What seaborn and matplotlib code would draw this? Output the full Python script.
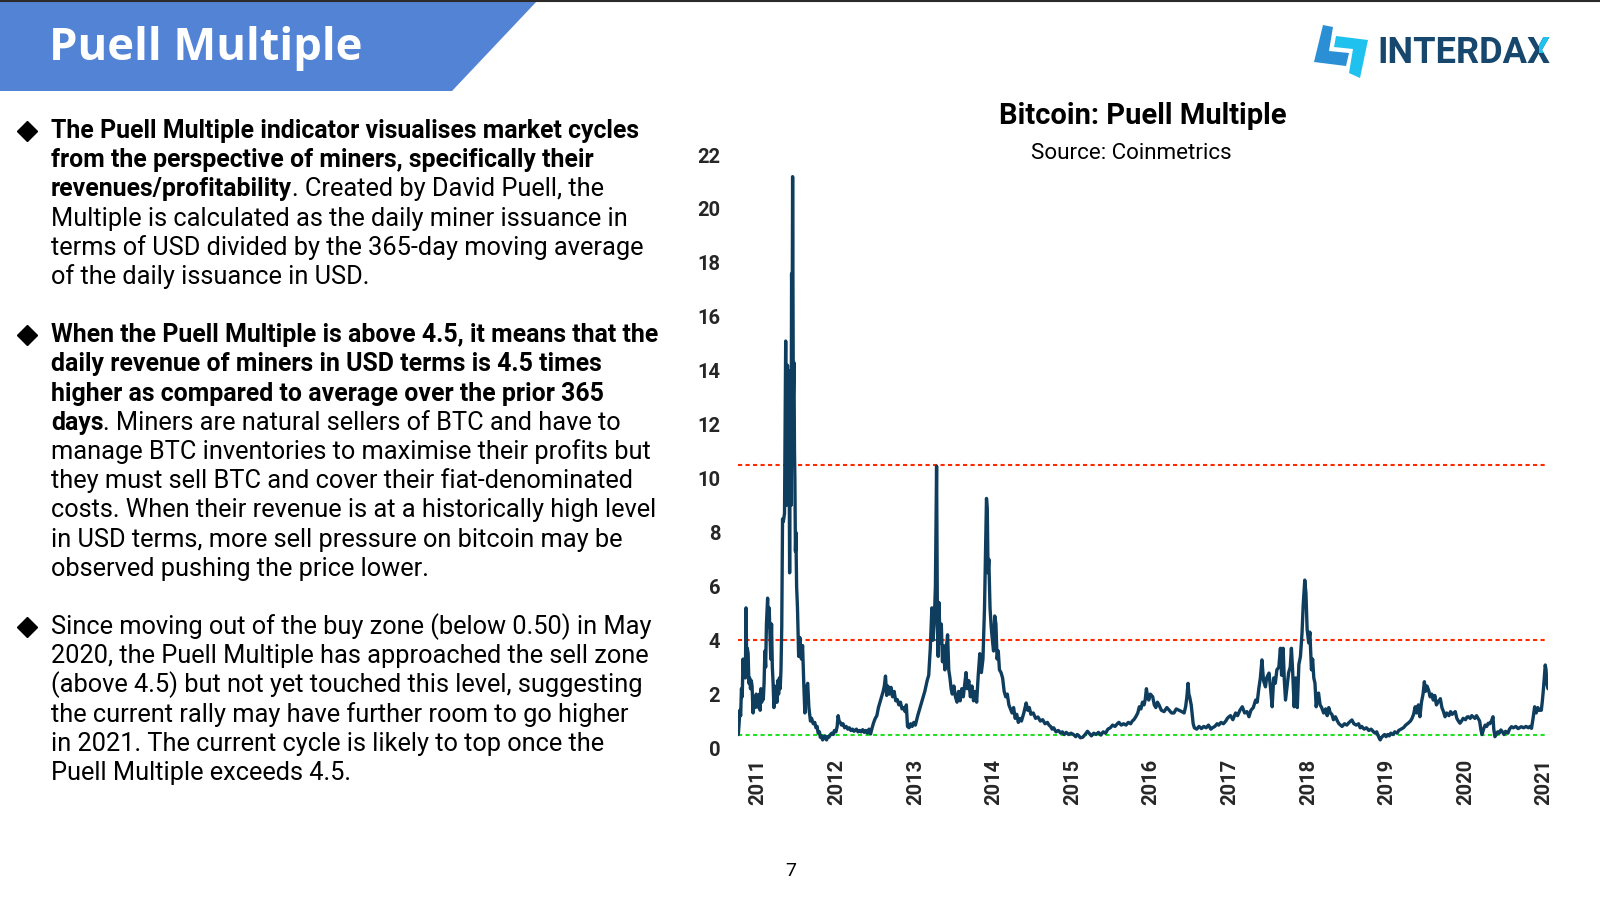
import matplotlib
matplotlib.use("Agg")
import matplotlib.pyplot as plt
from matplotlib.patches import Polygon
from matplotlib.lines import Line2D
from matplotlib.transforms import Bbox
import seaborn as sns
import pandas as pd

# ---------------- data ----------------
years = [
    2010.747, 2010.757, 2010.767, 2010.777, 2010.787, 2010.797, 2010.807, 2010.817, 2010.827, 2010.837,
    2010.845, 2010.853, 2010.862, 2010.872, 2010.882, 2010.892, 2010.902, 2010.912, 2010.922, 2010.935,
    2010.945, 2010.955, 2010.965, 2010.975, 2010.985, 2010.995, 2011.005, 2011.015, 2011.025, 2011.035,
    2011.045, 2011.055, 2011.065, 2011.075, 2011.085, 2011.095, 2011.105, 2011.120, 2011.130, 2011.140,
    2011.150, 2011.160, 2011.170, 2011.180, 2011.190, 2011.200, 2011.210, 2011.220, 2011.230, 2011.240,
    2011.250, 2011.260, 2011.270, 2011.280, 2011.290, 2011.300, 2011.310, 2011.320, 2011.335, 2011.350,
    2011.358, 2011.365, 2011.373, 2011.380, 2011.390, 2011.400, 2011.410, 2011.418, 2011.425, 2011.432,
    2011.438, 2011.443, 2011.447, 2011.455, 2011.462, 2011.467, 2011.474, 2011.480, 2011.489, 2011.500,
    2011.515, 2011.530, 2011.550, 2011.565, 2011.580, 2011.594, 2011.610, 2011.630, 2011.645, 2011.665,
    2011.680, 2011.700, 2011.720, 2011.735, 2011.750, 2011.763, 2011.780, 2011.790, 2011.805, 2011.820,
    2011.835, 2011.850, 2011.860, 2011.870, 2011.885, 2011.900, 2011.920, 2011.935, 2011.955, 2011.970,
    2011.990, 2012.005, 2012.017, 2012.030, 2012.045, 2012.060, 2012.080, 2012.100, 2012.120, 2012.140,
    2012.160, 2012.180, 2012.200, 2012.220, 2012.250, 2012.270, 2012.290,
    2012.31, 2012.33, 2012.35, 2012.37, 2012.39, 2012.41, 2012.43, 2012.45, 2012.47, 2012.49,
    2012.51, 2012.53, 2012.55, 2012.57, 2012.59, 2012.605, 2012.62, 2012.635, 2012.65, 2012.67,
    2012.69, 2012.71, 2012.73, 2012.75, 2012.77, 2012.79, 2012.81, 2012.83, 2012.85, 2012.87,
    2012.885, 2012.90, 2012.92, 2012.94, 2012.96, 2012.98, 2013.00, 2013.03, 2013.06, 2013.09,
    2013.12, 2013.15, 2013.17, 2013.19, 2013.21, 2013.225, 2013.24, 2013.255, 2013.27, 2013.28,
    2013.29, 2013.30, 2013.315, 2013.33, 2013.345, 2013.36, 2013.375, 2013.39, 2013.41, 2013.425,
    2013.44, 2013.455, 2013.47, 2013.49, 2013.51, 2013.53, 2013.55, 2013.57, 2013.59, 2013.61,
    2013.63, 2013.645, 2013.66, 2013.68, 2013.70, 2013.72, 2013.74, 2013.76, 2013.78, 2013.80,
    2013.82, 2013.84, 2013.86, 2013.88, 2013.895, 2013.905, 2013.915, 2013.925, 2013.935, 2013.95,
    2013.965, 2013.98, 2013.995, 2014.01, 2014.025, 2014.04, 2014.055, 2014.07, 2014.09, 2014.11,
    2014.13, 2014.15, 2014.17, 2014.19, 2014.21, 2014.23, 2014.25, 2014.27, 2014.29, 2014.31,
    2014.33, 2014.35, 2014.38, 2014.41, 2014.43, 2014.45, 2014.47, 2014.50, 2014.53, 2014.56,
    2014.59, 2014.62, 2014.65, 2014.68, 2014.70,
    2014.72, 2014.74, 2014.76, 2014.79, 2014.82, 2014.85, 2014.87, 2014.895, 2014.92, 2014.95,
    2014.98, 2015.00, 2015.02, 2015.04, 2015.06, 2015.08, 2015.10, 2015.13, 2015.16, 2015.19,
    2015.21, 2015.24, 2015.27, 2015.30, 2015.33, 2015.36, 2015.39, 2015.42, 2015.45, 2015.48,
    2015.51, 2015.54, 2015.57, 2015.59, 2015.62, 2015.65, 2015.68, 2015.71, 2015.74, 2015.76,
    2015.78, 2015.805, 2015.83, 2015.85, 2015.87, 2015.89, 2015.91, 2015.925, 2015.94, 2015.955,
    2015.97, 2015.99, 2016.02, 2016.04, 2016.06, 2016.08, 2016.10, 2016.13, 2016.165, 2016.20,
    2016.23, 2016.26, 2016.29, 2016.32, 2016.355, 2016.39, 2016.42, 2016.44, 2016.455, 2016.47,
    2016.48, 2016.49, 2016.51, 2016.525, 2016.535, 2016.55, 2016.58, 2016.61, 2016.64, 2016.67,
    2016.70, 2016.73, 2016.76, 2016.78, 2016.81, 2016.84, 2016.86, 2016.89, 2016.92, 2016.95,
    2016.97, 2016.99, 2017.01, 2017.04, 2017.075,
    2017.10, 2017.13, 2017.16, 2017.19, 2017.22, 2017.245, 2017.27, 2017.30, 2017.33, 2017.35,
    2017.37, 2017.39, 2017.41, 2017.43, 2017.455, 2017.47, 2017.50, 2017.52, 2017.54, 2017.56,
    2017.58, 2017.60, 2017.625, 2017.645, 2017.66, 2017.68, 2017.695, 2017.71, 2017.73, 2017.75,
    2017.77, 2017.785, 2017.80, 2017.82, 2017.84, 2017.86, 2017.88, 2017.90, 2017.92, 2017.935,
    2017.955, 2017.97, 2017.985, 2018.005, 2018.02, 2018.04, 2018.055, 2018.07, 2018.085, 2018.10,
    2018.115, 2018.13, 2018.15, 2018.17, 2018.195, 2018.22, 2018.24, 2018.26, 2018.28, 2018.30,
    2018.32, 2018.345, 2018.37, 2018.39, 2018.41, 2018.43, 2018.46, 2018.49, 2018.52, 2018.555,
    2018.58, 2018.61, 2018.64, 2018.66, 2018.68, 2018.71, 2018.74, 2018.77, 2018.80, 2018.83,
    2018.85, 2018.87, 2018.89, 2018.905, 2018.915, 2018.93, 2018.95, 2018.97, 2018.99, 2019.01,
    2019.03, 2019.05, 2019.08, 2019.10, 2019.13, 2019.15, 2019.18, 2019.21, 2019.24, 2019.27,
    2019.30, 2019.32, 2019.34, 2019.36, 2019.38, 2019.40, 2019.42, 2019.44, 2019.46, 2019.477,
    2019.49, 2019.51, 2019.53, 2019.55, 2019.57, 2019.59, 2019.61, 2019.63, 2019.65, 2019.68,
    2019.70, 2019.72, 2019.74, 2019.76, 2019.79, 2019.81, 2019.83, 2019.85, 2019.87, 2019.89,
    2019.91, 2019.93, 2019.95, 2019.97, 2020.00, 2020.02, 2020.035, 2020.06, 2020.08, 2020.10,
    2020.12, 2020.14, 2020.16, 2020.18, 2020.195, 2020.21, 2020.23, 2020.25, 2020.27, 2020.29,
    2020.31, 2020.33, 2020.35, 2020.36, 2020.375, 2020.39, 2020.41, 2020.43, 2020.45, 2020.47,
    2020.49, 2020.51, 2020.54, 2020.56, 2020.585, 2020.61, 2020.64, 2020.67, 2020.71, 2020.74,
    2020.77, 2020.80, 2020.82, 2020.84, 2020.86, 2020.88, 2020.90, 2020.92, 2020.94, 2020.965,
    2020.98, 2020.995, 2021.005, 2021.015, 2021.025, 2021.035, 2021.05,
]
puell = [
    0.5, 0.9, 1.4, 1.2, 2.2, 1.9, 3.3, 2.7, 3.0, 2.6,
    5.2, 3.4, 3.7, 3.5, 2.4, 2.6, 2.2, 2.5, 2.3, 1.3,
    1.9, 1.6, 1.5, 2.0, 1.7, 1.8, 1.5, 2.0, 1.4, 2.2,
    1.7, 2.1, 1.8, 2.4, 3.6, 3.0, 4.6, 5.56, 4.5, 5.2,
    4.2, 3.3, 4.6, 3.0, 2.4, 1.5, 2.3, 1.7, 2.1, 1.7,
    2.5, 2.0, 2.6, 2.2, 2.9, 4.5, 8.5, 8.4, 8.7, 15.1,
    9.0, 13.0, 14.2, 11.5, 13.5, 6.5, 14.0, 9.0, 17.6, 15.0,
    21.2, 16.0, 13.0, 14.3, 11.0, 10.0, 7.3, 8.0, 6.0, 5.2,
    3.4, 4.1, 3.3, 3.8, 2.4, 1.3, 2.2, 2.4, 1.5, 1.0,
    1.1, 0.9, 0.95, 0.75, 0.8, 0.55, 0.6, 0.4, 0.45, 0.3,
    0.4, 0.45, 0.35, 0.3, 0.42, 0.4, 0.5, 0.55, 0.5, 0.65,
    0.6, 0.8, 1.2, 1.0, 0.95, 0.85, 0.9, 0.75, 0.8, 0.7,
    0.75, 0.65, 0.7, 0.62, 0.7, 0.6, 0.65,
    0.6, 0.68, 0.58, 0.65, 0.55, 0.7, 0.52, 0.75, 0.95, 1.1,
    1.2, 1.5, 1.7, 1.9, 2.1, 2.3, 2.67, 1.95, 2.3, 2.0,
    2.25, 1.9, 2.1, 1.75, 1.8, 1.6, 1.7, 1.45, 1.5, 1.35,
    1.6, 0.8, 0.75, 0.9, 0.8, 0.95, 0.85, 1.2, 1.5, 1.8,
    2.1, 2.5, 2.7, 3.7, 5.2, 4.0, 4.6, 6.0, 10.46, 5.0,
    3.4, 5.4, 3.9, 4.6, 3.2, 3.8, 2.9, 3.6, 4.2, 2.9,
    2.6, 2.2, 2.0, 2.3, 1.9, 1.7, 2.1, 1.75, 2.2, 1.9,
    2.4, 2.8, 2.2, 2.5, 1.9, 2.3, 1.75, 2.1, 1.7, 2.7,
    3.5, 2.8, 3.3, 5.2, 7.6, 9.26, 8.9, 6.5, 7.0, 5.2,
    4.5, 4.0, 3.6, 4.9, 4.6, 3.3, 3.6, 2.9, 2.8, 2.6,
    2.1, 1.9, 2.0, 1.6, 1.45, 1.3, 1.5, 1.1, 1.25, 0.95,
    1.1, 1.0, 1.3, 1.67, 1.4, 1.5, 1.25, 1.3, 1.1, 1.15,
    1.0, 1.05, 0.9, 0.95, 0.85,
    0.8, 0.7, 0.75, 0.6, 0.65, 0.55, 0.6, 0.5, 0.58, 0.5,
    0.55, 0.52, 0.48, 0.42, 0.5, 0.45, 0.38, 0.4, 0.5, 0.62,
    0.55, 0.45, 0.55, 0.5, 0.58, 0.48, 0.6, 0.55, 0.7, 0.75,
    0.85, 0.8, 0.9, 0.95, 0.85, 0.9, 0.85, 0.95, 0.9, 1.0,
    1.05, 1.16, 1.3, 1.53, 1.45, 1.7, 1.6, 1.8, 2.2, 1.9,
    1.78, 2.0, 1.9, 1.6, 1.5, 1.7, 1.6, 1.4, 1.35, 1.5,
    1.4, 1.3, 1.3, 1.45, 1.4, 1.35, 1.3, 1.55, 1.9, 2.4,
    2.0, 1.9, 1.6, 1.2, 0.9, 0.75, 0.7, 0.8, 0.72, 0.8,
    0.75, 0.85, 0.7, 0.75, 0.8, 0.9, 0.85, 0.95, 0.9, 1.0,
    1.1, 1.16, 1.2, 1.05, 1.3,
    1.2, 1.4, 1.53, 1.3, 1.35, 1.16, 1.4, 1.5, 1.78, 1.7,
    2.2, 2.6, 3.27, 2.5, 2.27, 2.6, 2.78, 2.2, 1.53, 2.6,
    2.4, 2.9, 3.0, 3.7, 2.7, 3.7, 2.5, 1.78, 2.3, 2.8,
    3.0, 3.7, 2.9, 1.53, 2.6, 1.5, 3.1, 3.4, 4.26, 5.3,
    6.23, 5.74, 4.4, 3.9, 4.3, 2.9, 3.3, 2.6, 2.4, 1.53,
    1.8, 2.04, 1.6, 1.5, 1.3, 1.45, 1.2, 1.5, 1.3, 1.25,
    1.05, 1.16, 1.0, 0.9, 0.85, 0.8, 0.9, 0.85, 0.95, 1.04,
    0.9, 0.85, 0.9, 0.75, 0.8, 0.7, 0.75, 0.65, 0.7, 0.6,
    0.55, 0.6, 0.45, 0.35, 0.3, 0.38, 0.45, 0.5, 0.42, 0.5,
    0.45, 0.55, 0.5, 0.6, 0.55, 0.65, 0.7, 0.75, 0.85, 0.92,
    1.0, 1.1, 1.25, 1.53, 1.3, 1.6, 1.16, 1.7, 2.0, 2.46,
    2.1, 2.3, 2.15, 1.9, 2.0, 1.78, 1.95, 1.6, 1.7, 1.83,
    1.5, 1.35, 1.16, 1.3, 1.2, 1.35, 1.25, 1.3, 1.35, 1.1,
    1.0, 0.92, 1.0, 1.1, 1.05, 1.15, 1.16, 1.1, 1.2, 1.15,
    1.1, 1.2, 1.1, 1.0, 0.7, 0.5, 0.7, 0.85, 0.8, 0.92,
    0.9, 1.0, 1.16, 0.7, 0.42, 0.5, 0.6, 0.55, 0.67, 0.6,
    0.5, 0.62, 0.55, 0.7, 0.79, 0.75, 0.8, 0.72, 0.79, 0.75,
    0.8, 0.75, 0.8, 0.73, 1.1, 1.53, 1.3, 1.5, 1.4, 1.4,
    1.8, 2.3, 2.7, 3.08, 2.9, 2.4, 2.2,
]
sell_levels = [10.5, 4.0]
buy_level = 0.5
tick_years = [2011, 2012, 2013, 2014, 2015, 2016, 2017, 2018, 2019, 2020, 2021]
tick_labels = [str(y) for y in tick_years]
y_ticks = [0, 2, 4, 6, 8, 10, 12, 14, 16, 18, 20, 22]

header_title = "Puell Multiple"
chart_title = "Bitcoin: Puell Multiple"
chart_source = "Source: Coinmetrics"
page_number = "7"

bullets = [
    [
        [("The Puell Multiple indicator visualises market cycles", True)],
        [("from the perspective of miners, specifically their", True)],
        [("revenues/profitability", True), (". Created by David Puell, the", False)],
        [("Multiple is calculated as the daily miner issuance in", False)],
        [("terms of USD divided by the 365-day moving average", False)],
        [("of the daily issuance in USD.", False)],
    ],
    [
        [("When the Puell Multiple is above 4.5, it means that the", True)],
        [("daily revenue of miners in USD terms is 4.5 times", True)],
        [("higher as compared to average over the prior 365", True)],
        [("days", True), (". Miners are natural sellers of BTC and have to", False)],
        [("manage BTC inventories to maximise their profits but", False)],
        [("they must sell BTC and cover their fiat-denominated", False)],
        [("costs. When their revenue is at a historically high level", False)],
        [("in USD terms, more sell pressure on bitcoin may be", False)],
        [("observed pushing the price lower.", False)],
    ],
    [
        [("Since moving out of the buy zone (below 0.50) in May", False)],
        [("2020, the Puell Multiple has approached the sell zone", False)],
        [("(above 4.5) but not yet touched this level, suggesting", False)],
        [("the current rally may have further room to go higher", False)],
        [("in 2021. The current cycle is likely to top once the", False)],
        [("Puell Multiple exceeds 4.5.", False)],
    ],
]

# ---------------- figure ----------------
sns.set_theme(style="white")
plt.rcParams["font.family"] = ["Roboto", "DejaVu Sans"]

W, H = 1600, 902
fig = plt.figure(figsize=(16, 9.02), dpi=100)
fig.patch.set_facecolor("white")
renderer = fig.canvas.get_renderer()


def fx(px):
    return px / W


def fy(py):
    return 1 - py / H


def fit_size(s, target, family, weight):
    t = fig.text(0, 0, s, fontsize=20, family=family, fontweight=weight)
    w = t.get_window_extent(renderer).width
    t.remove()
    return 20 * target / w


BODY = ["Roboto", "DejaVu Sans"]

# header band
fig.patches.append(Polygon([[fx(0), fy(0)], [fx(538), fy(0)], [fx(452), fy(91)], [fx(0), fy(91)]],
                           closed=True, transform=fig.transFigure, facecolor="#5383d4",
                           edgecolor="none", zorder=0))
fig.add_artist(Line2D([0, 1], [fy(0.8), fy(0.8)], transform=fig.transFigure, color="#2b2b2b", lw=1.5))
hs = fit_size(header_title, 313, ["Open Sans", "DejaVu Sans"], "bold")
fig.text(fx(49), fy(60), header_title, fontsize=hs, family=["Open Sans", "DejaVu Sans"],
         fontweight="bold", color="white", va="baseline", ha="left")

# logo
fig.patches.append(Polygon([[fx(1323), fy(25)], [fx(1333), fy(27)], [fx(1329), fy(51)], [fx(1349), fy(53)],
                            [fx(1346), fy(66)], [fx(1314), fy(62)]],
                           closed=True, transform=fig.transFigure, facecolor="#2b8fd6", edgecolor="none"))
fig.patches.append(Polygon([[fx(1336), fy(36)], [fx(1368), fy(40)], [fx(1360), fy(78)], [fx(1349), fy(73)],
                            [fx(1353), fy(49)], [fx(1334), fy(47)]],
                           closed=True, transform=fig.transFigure, facecolor="#1fc2ee", edgecolor="none"))
ls = fit_size("INTERDAX", 173, BODY, "bold")
lt = fig.text(fx(1377), fy(63.3), "INTERDAX", fontsize=ls, family=BODY, fontweight="bold",
              color="#17476d", va="baseline", ha="left")
bb = lt.get_window_extent(renderer)
lt2 = fig.text(fx(1377), fy(63.3), "INTERDAX", fontsize=ls, family=BODY, fontweight="bold",
               color="#1fc2ee", va="baseline", ha="left")
lt2.set_clip_box(Bbox.from_extents(bb.x1 - 11, (bb.y0 + bb.y1) / 2, bb.x1 + 5, bb.y1 + 5))
lt2.set_clip_on(True)

# body text
bold_size = fit_size("When the Puell Multiple is above 4.5, it means that the", 607, BODY, "bold")
reg_size = fit_size("costs. When their revenue is at a historically high level", 604, BODY, "normal")
starts = [130.6, 334.7, 626.5]
step = 29.2
for bi, lines in enumerate(bullets):
    c0 = starts[bi]
    fig.add_artist(Line2D([fx(27)], [fy(c0)], transform=fig.transFigure, marker="D",
                          markersize=10.5, color="black", lw=0))
    for li, segs in enumerate(lines):
        base = c0 + li * step + 7.5
        x = 51
        for s, bold in segs:
            t = fig.text(fx(x), fy(base), s, fontsize=bold_size if bold else reg_size, family=BODY,
                         fontweight="bold" if bold else "normal", color="black",
                         va="baseline", ha="left")
            x += t.get_window_extent(renderer).width

# chart titles
ts = fit_size(chart_title, 288, BODY, "bold")
fig.text(fx(1143), fy(124.5), chart_title, fontsize=ts, family=BODY, fontweight="bold",
         ha="center", va="baseline", color="black")
ss = fit_size(chart_source, 200, BODY, "normal")
fig.text(fx(1131), fy(159), chart_source, fontsize=ss, family=BODY, ha="center",
         va="baseline", color="black")
fig.text(fx(791), fy(871), page_number, fontsize=14, family=BODY, ha="center", va="center",
         color="black")

# ---------------- chart ----------------
ax = fig.add_axes([fx(738.3), fy(748), fx(1548) - fx(738.3), fy(155.1) - fy(748)])
ax.set_facecolor("none")
df = pd.DataFrame({"year": years, "puell": puell})
for lvl in sell_levels:
    ax.axhline(lvl, color="#ff2a00", lw=1.5, ls=(0, (2, 1.6)), zorder=1)
ax.axhline(buy_level, color="#22e022", lw=1.5, ls=(0, (2, 1.6)), zorder=1)
sns.lineplot(data=df, x="year", y="puell", ax=ax, color="#0e3d5e", lw=2.4, estimator=None,
             sort=False, zorder=3)
ax.set_xlim(years[0], years[-1])
ax.set_ylim(0, 22)
ax.set_xticks(tick_years)
ax.set_xticklabels(tick_labels, rotation=90, fontweight="bold", fontsize=14.5, family=BODY)
ax.set_yticks(y_ticks)
ax.set_yticklabels([str(v) for v in y_ticks], fontweight="bold", fontsize=14.5, family=BODY)
ax.tick_params(axis="x", length=0, pad=8)
ax.tick_params(axis="y", length=0, pad=13)
ax.set_xlabel("")
ax.set_ylabel("")
for sp in ax.spines.values():
    sp.set_visible(False)
ax.grid(False)

fig.savefig("out.png", dpi=100, facecolor="white")
